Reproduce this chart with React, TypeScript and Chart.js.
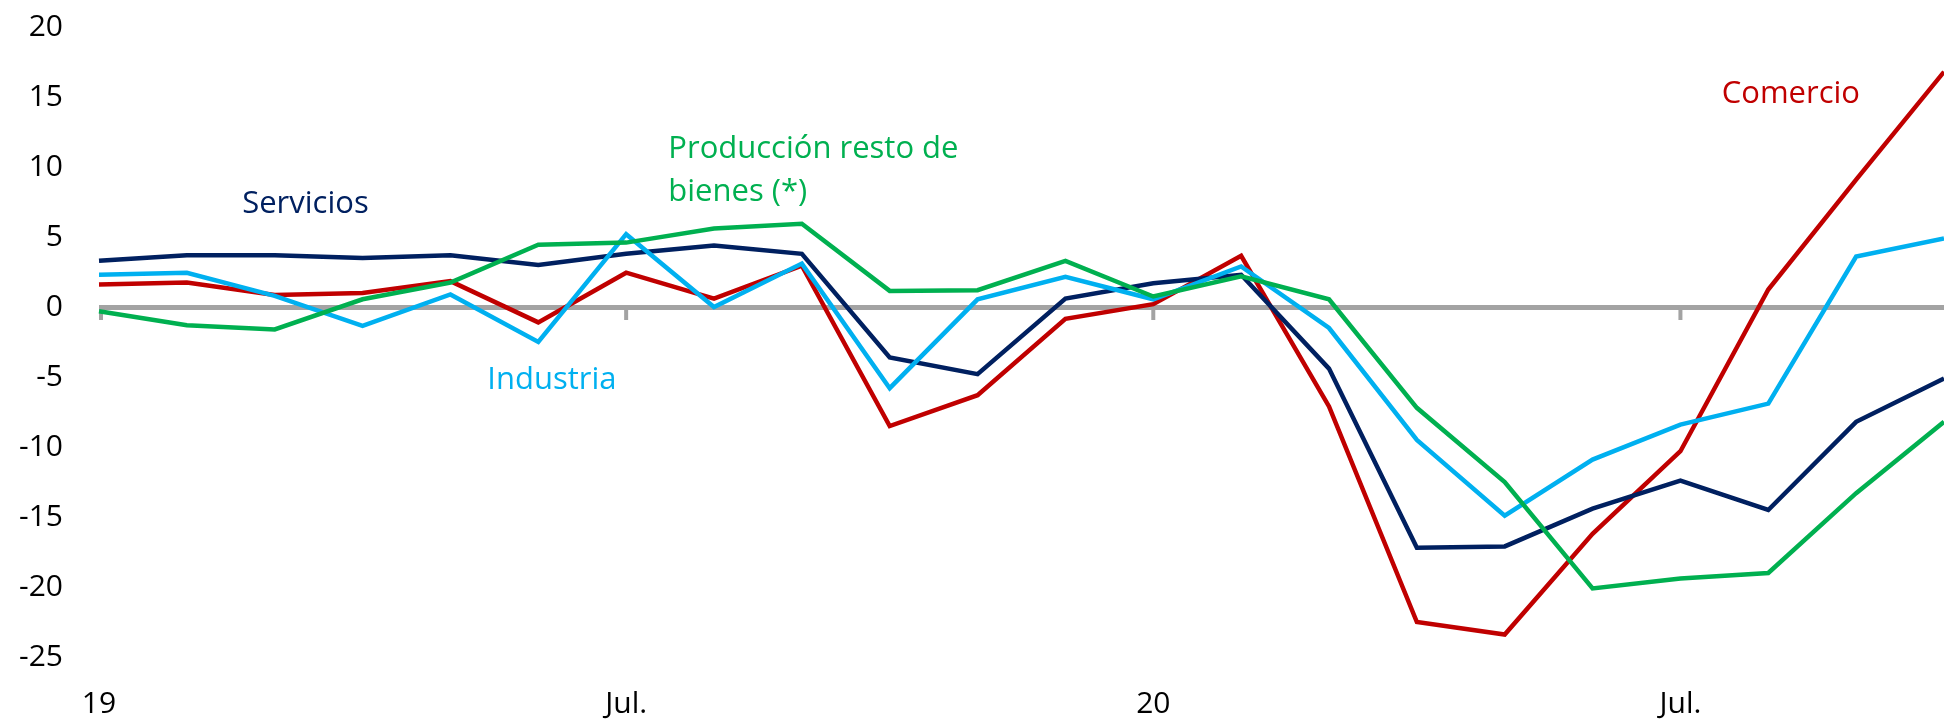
import React, { useEffect, useRef } from "react";
import { Chart, registerables } from "chart.js";

Chart.register(...registerables);

const months: string[] = [
  "19", "", "", "", "", "", "Jul.", "", "", "", "", "",
  "20", "", "", "", "", "", "Jul.", "", "", "",
];

const servicios: number[] = [
  3.3, 3.7, 3.7, 3.5, 3.7, 3.0, 3.8, 4.4, 3.8, -3.6, -4.8,
  0.6, 1.7, 2.3, -4.4, -17.2, -17.1, -14.4, -12.4, -14.5, -8.2, -5.1,
];

const industria: number[] = [
  2.3, 2.45, 0.8, -1.35, 0.9, -2.5, 5.2, 0.0, 3.1, -5.8, 0.55,
  2.15, 0.55, 2.9, -1.5, -9.5, -14.9, -10.9, -8.4, -6.9, 3.6, 4.9,
];

const comercio: number[] = [
  1.6, 1.75, 0.85, 1.0, 1.85, -1.1, 2.45, 0.6, 2.95, -8.5, -6.3,
  -0.85, 0.2, 3.65, -7.1, -22.5, -23.4, -16.2, -10.3, 1.25, 9.1, 16.8,
];

const restoBienes: number[] = [
  -0.3, -1.3, -1.6, 0.55, 1.75, 4.45, 4.6, 5.6, 5.95, 1.15, 1.2,
  3.3, 0.75, 2.2, 0.55, -7.2, -12.5, -20.1, -19.4, -19.0, -13.3, -8.2,
];

const seriesNames: string[] = [
  "Servicios",
  "Industria",
  "Comercio",
  "Producción resto de bienes (*)",
];

const yTicks = { min: -25, max: 20, step: 5 };

const COLORS = {
  servicios: "#002060",
  industria: "#00b0f0",
  comercio: "#c00000",
  resto: "#00b050",
  axis: "#a3a3a3",
};

// annotation labels: text, x (category index), y (value at text baseline)
const annotations: { text: string; x: number; y: number; color: string }[] = [
  { text: "Servicios", x: 1.63, y: 6.71, color: COLORS.servicios },
  { text: "Industria", x: 4.42, y: -5.86, color: COLORS.industria },
  { text: "Producción resto de", x: 6.48, y: 10.64, color: COLORS.resto },
  { text: "bienes (*)", x: 6.48, y: 7.57, color: COLORS.resto },
  { text: "Comercio", x: 18.47, y: 14.57, color: COLORS.comercio },
];

const FONT = "'Open Sans', 'Noto Sans', sans-serif";

const xAt = (xs: any, v: number) => {
  const i0 = Math.floor(v);
  const p0 = xs.getPixelForValue(i0);
  const p1 = xs.getPixelForValue(i0 + 1);
  return p0 + (p1 - p0) * (v - i0);
};

const zeroTicksPlugin = {
  id: "zeroTicks",
  beforeDatasetsDraw(chart: any) {
    const ctx = chart.ctx;
    const xs = chart.scales.x;
    const ys = chart.scales.y;
    const y0 = ys.getPixelForValue(0);
    ctx.save();
    ctx.strokeStyle = COLORS.axis;
    ctx.lineWidth = 4;
    months.forEach((m, i) => {
      if (!m) return;
      const px = xs.getPixelForValue(i) + (i === 0 ? 2 : 0);
      ctx.beginPath();
      ctx.moveTo(px, y0);
      ctx.lineTo(px, y0 + 13);
      ctx.stroke();
    });
    ctx.restore();
  },
};

const labelPlugin = {
  id: "seriesLabels",
  afterDatasetsDraw(chart: any) {
    const ctx = chart.ctx;
    const xs = chart.scales.x;
    const ys = chart.scales.y;
    ctx.save();
    ctx.font = `31px ${FONT}`;
    ctx.textAlign = "left";
    ctx.textBaseline = "alphabetic";
    for (const a of annotations) {
      ctx.fillStyle = a.color;
      ctx.fillText(a.text, xAt(xs, a.x), ys.getPixelForValue(a.y));
    }
    ctx.restore();
  },
};

export default function App() {
  const canvasRef = useRef<HTMLCanvasElement | null>(null);

  useEffect(() => {
    const canvas = canvasRef.current;
    if (!canvas) return;
    const mk = (label: string, data: number[], color: string) => ({
      label,
      data,
      borderColor: color,
      backgroundColor: color,
      borderWidth: 4.5,
      pointRadius: 0,
      tension: 0,
      fill: false,
    });
    const chart = new Chart(canvas, {
      type: "line",
      data: {
        labels: months,
        datasets: [
          mk(seriesNames[3], restoBienes, COLORS.resto),
          mk(seriesNames[1], industria, COLORS.industria),
          mk(seriesNames[0], servicios, COLORS.servicios),
          mk(seriesNames[2], comercio, COLORS.comercio),
        ],
      },
      options: {
        animation: false,
        responsive: false,
        maintainAspectRatio: false,
        layout: { padding: { left: 0, right: 0, top: 27, bottom: 0 } },
        plugins: {
          legend: { display: false },
          tooltip: { enabled: false },
          title: { display: false },
        },
        scales: {
          x: {
            type: "category",
            position: "bottom",
            offset: false,
            grid: { display: false, drawTicks: false },
            border: { display: false },
            ticks: {
              autoSkip: false,
              maxRotation: 0,
              minRotation: 0,
              padding: 29,
              color: "#000000",
              font: { family: FONT, size: 30 },
            },
            afterFit: (scale: any) => {
              scale.height = 63;
              scale.paddingLeft = 0;
              scale.paddingRight = 0;
            },
          },
          y: {
            type: "linear",
            min: yTicks.min,
            max: yTicks.max,
            grid: {
              display: true,
              drawTicks: false,
              lineWidth: (c: any) => (c.tick && c.tick.value === 0 ? 5 : 0),
              color: (c: any) =>
                c.tick && c.tick.value === 0 ? COLORS.axis : "rgba(0,0,0,0)",
            },
            border: { display: false },
            ticks: {
              stepSize: yTicks.step,
              padding: 36,
              color: "#000000",
              font: { family: FONT, size: 30 },
            },
            afterFit: (scale: any) => {
              scale.width = 99;
              scale.paddingTop = 0;
              scale.paddingBottom = 0;
            },
          },
        },
      } as any,
      plugins: [zeroTicksPlugin, labelPlugin],
    });
    return () => chart.destroy();
  }, []);

  return (
    <div
      style={{
        position: "fixed",
        left: 0,
        top: 0,
        width: 1944,
        height: 720,
        background: "#ffffff",
      }}
    >
      <canvas
        ref={canvasRef}
        width={1944}
        height={720}
        style={{ display: "block", width: 1944, height: 720 }}
      />
    </div>
  );
}
